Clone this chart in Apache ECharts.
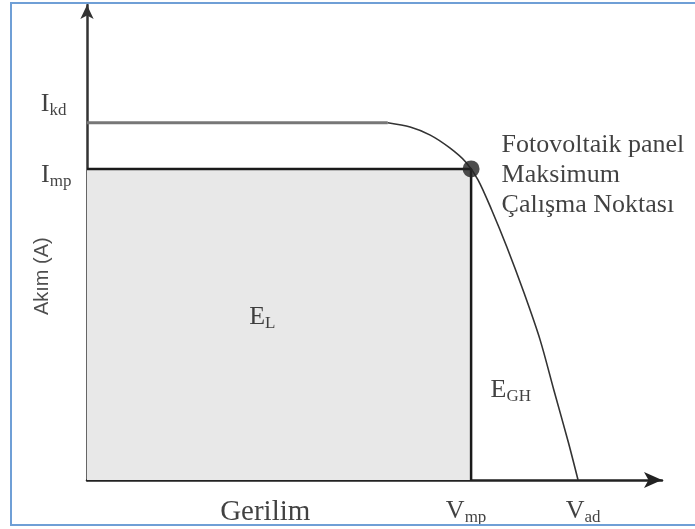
<!DOCTYPE html>
<html>
<head>
<meta charset="utf-8">
<title>Fotovoltaik panel I-V</title>
<script src="https://cdn.jsdelivr.net/npm/echarts@6/dist/echarts.min.js"></script>
<style>
  html, body { margin: 0; padding: 0; background: #fff; }
  #chart { width: 695px; height: 529px; }
</style>
</head>
<body>
<div id="chart"></div>
<script>
// akım-gerilim eğrisi (birimsiz, 0-100 ölçek)
const curveV = [0, 52.3, 56.2, 59.7, 63.1, 65.9, 68.0, 70.4, 73.0, 76.0, 78.8, 81.2, 83.7, 85.4];
const curveI = [75.2, 75.2, 74.3, 72.6, 69.9, 66.9, 63.2, 56.8, 49.1, 39.4, 29.5, 18.9, 8.0, 0];
// önemli noktalar
const Vmp = 66.8, Imp = 65.5, Ikd = 75.2, Vad = 85.4;
// yazılar
const yTickTexts = ['{m|I}{s|kd}', '{m|I}{s|mp}'];
const xTickTexts = ['{m|V}{s|mp}', '{m|V}{s|ad}'];
const areaTexts = ['{m|E}{s|L}', '{m|E}{s|GH}'];
const axisTexts = ['Gerilim', 'Akım (A)'];
const noteLines = ['Fotovoltaik panel', 'Maksimum', 'Çalışma Noktası'];

const chart = echarts.init(document.getElementById('chart'));

const serif = '"Liberation Serif", "DejaVu Serif", serif';
const rich = {
  m: { fontFamily: serif, fontSize: 26, lineHeight: 30, color: '#111' },
  s: { fontFamily: serif, fontSize: 17, lineHeight: 20, color: '#111', verticalAlign: 'bottom' }
};

// yazı noktası (görünmez sembol + etiket)
function textPoint(value, text, label) {
  return {
    value: value,
    label: Object.assign({ show: true, formatter: text, rich: rich, color: '#111',
      fontFamily: serif, fontSize: 26 }, label)
  };
}

const curve = curveV.map((v, i) => [v, curveI[i]]);

const option = {
  animation: false,
  grid: { left: 87, right: 33, top: 5, bottom: 49 },
  xAxis: {
    type: 'value', min: 0, max: 100,
    axisLine: { lineStyle: { color: '#222', width: 2.5 }, symbol: ['none', 'arrow'], symbolSize: [12, 18] },
    axisTick: { show: false }, axisLabel: { show: false }, splitLine: { show: false }
  },
  yAxis: {
    type: 'value', min: 0, max: 100,
    axisLine: { lineStyle: { color: '#333', width: 2.5 }, symbol: ['none', 'arrow'], symbolSize: [10, 14] },
    axisTick: { show: false }, axisLabel: { show: false }, splitLine: { show: false }
  },
  graphic: [{
    type: 'rect', z: 100, silent: true,
    shape: { x: 11, y: 3, width: 720, height: 522 },
    style: { fill: 'none', stroke: '#6f9fd6', lineWidth: 2 }
  }],
  series: [
    // maksimum güç dikdörtgeni
    {
      type: 'line', data: [[0, Imp], [Vmp, Imp], [Vmp, 0]],
      symbol: 'none', z: 2,
      lineStyle: { color: '#1a1a1a', width: 2.5 },
      areaStyle: { color: '#e8e8e8', opacity: 1 }
    },
    // kısa devre akımı düz kısmı
    {
      type: 'line', data: curve.slice(0, 2), symbol: 'none', z: 3,
      lineStyle: { color: '#777', width: 3 }
    },
    // eğri
    {
      type: 'line', data: curve.slice(1), symbol: 'none', z: 3,
      smooth: 0.3,
      lineStyle: { color: '#333', width: 1.6 }
    },
    // maksimum çalışma noktası
    {
      type: 'scatter', data: [[Vmp, Imp]], symbolSize: 17, z: 5,
      itemStyle: { color: '#222' },
      label: {
        show: true, position: 'right', distance: 22, offset: [0, 6],
        formatter: noteLines.join('\n'),
        fontFamily: serif, fontSize: 26, lineHeight: 30, color: '#111'
      }
    },
    // yazılar
    {
      type: 'scatter', symbolSize: 1, clip: false, silent: true, z: 6,
      itemStyle: { color: 'rgba(0,0,0,0)' },
      data: [
        textPoint([0, Ikd], yTickTexts[0], { position: 'left', distance: 20, offset: [0, -19] }),
        textPoint([0, Imp], yTickTexts[1], { position: 'left', distance: 15, offset: [0, 6] }),
        textPoint([Vmp, 0], xTickTexts[0], { position: 'bottom', distance: 16, offset: [-5, 0] }),
        textPoint([Vad, 0], xTickTexts[1], { position: 'bottom', distance: 16, offset: [5, 0] }),
        textPoint([30.5, 34.3], areaTexts[0], { position: 'inside' }),
        textPoint([73.7, 18.9], areaTexts[1], { position: 'inside' }),
        textPoint([31, 0], '{g|' + axisTexts[0] + '}', {
          position: 'bottom', distance: 17,
          rich: { g: { fontFamily: serif, fontSize: 29, color: '#111' } }
        }),
        textPoint([-7.8, 42.9], axisTexts[1], {
          position: 'inside', rotate: 90,
          fontFamily: '"Liberation Sans", Arial, sans-serif', fontSize: 20, color: '#222'
        })
      ]
    }
  ]
};

chart.setOption(option);
</script>
</body>
</html>
